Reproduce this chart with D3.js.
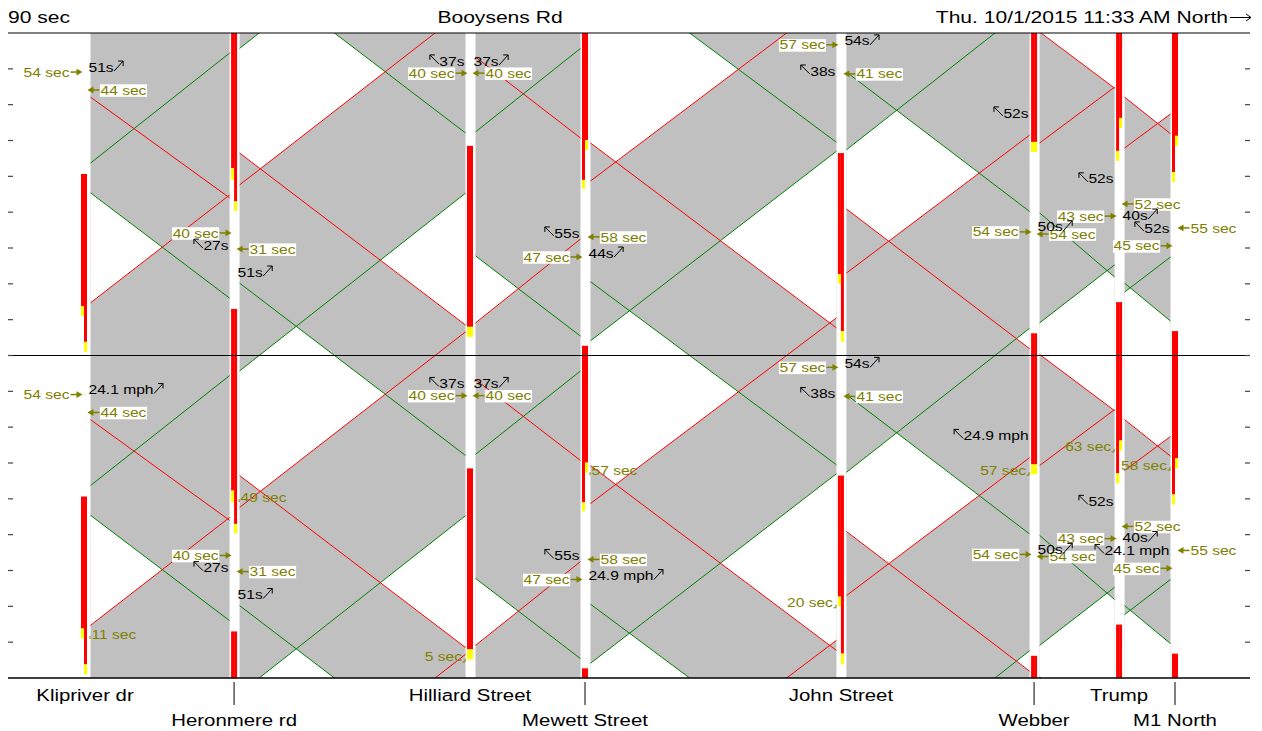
<!DOCTYPE html>
<html><head><meta charset="utf-8">
<script src="https://cdn.jsdelivr.net/npm/d3@7"></script>
<style>body{margin:0;background:#fff} text{font-family:"Liberation Sans",Arial,sans-serif}</style>
</head><body>
<svg id="c" width="1262" height="731"></svg>
<script>
// ---------------- data ----------------
const CYCLE = 90; // seconds
const intersections = ["Klipriver dr","Heronmere rd","Hilliard Street","Mewett Street","John Street","Webber","Trump","M1 North"];
const distances = [0, 328, 847, 1100, 1663, 2088, 2275, 2398]; // ft along Booysens Rd

// signal timing per intersection (s in cycle): two phases (left / right half of the bar)
const leftYellowStart  = [11.0, 49.0, 5.2, 46.5, 20.0, 56.8, 54.3, 48.4];
const leftRedStart     = [13.8, 52.3, 8.0, 49.0, 22.7, 59.6, 57.1, 51.2];
const rightYellowStart = [1.0, 40.3, 5.2, 57.3, 3.8, 56.8, 63.5, 58.5];
const rightRedStart    = [3.8, 43.0, 8.0, 60.1, 6.8, 59.6, 66.3, 61.3];
const redEnd           = [50.65, 103.0, 58.5, 92.7, 56.5, 96.2, 104.9, 96.8];

// band edge trajectories per link: [time at upstream end, time at downstream end] (s)
const nbGreen = [[143.7,174.4],[85.7,135.3],[152.4,175.7],[94.1,147.0],[147.4,187.6],[99.1,115.3],[107.7,117.5]];
const nbRed   = [[104.7,134.8],[137.6,186.6],[99.1,122.5],[138.7,190.5],[113.0,151.5],[149.3,164.9],[147.9,157.4]];
const sbGreen = [[135.4,106.0],[110.2,62.1],[117.8,95.4],[110.6,59.5],[169.1,130.2],[129.8,111.9],[110.2,99.6]];
const sbRed   = [[162.1,134.0],[146.5,98.5],[173.3,150.7],[149.3,97.7],[130.9,91.9],[180.3,164.6],[162.1,151.9]];

// unshaded gaps between bands: [link, lower edges [line, cycle], upper edges [line, cycle]]
const gaps = [
  [0, [["nbRed",0],["sbRed",-1]], [["sbGreen",0],["nbGreen",0]]],
  [1, [["nbRed",0],["sbRed",0]],  [["nbGreen",1],["sbGreen",1]]],
  [1, [["sbRed",0],["nbRed",-1]], [["nbGreen",0],["sbGreen",1]]],
  [2, [["nbRed",0],["sbRed",-1]], [["sbGreen",0],["nbGreen",0]]],
  [3, [["sbRed",0],["nbRed",0]],  [["nbGreen",1],["sbGreen",1]]],
  [3, [["nbRed",-1],["sbRed",0]], [["nbGreen",0],["sbGreen",1]]],
  [4, [["sbRed",0],["nbRed",0]],  [["nbGreen",0],["sbGreen",0]]],
  [4, [["sbRed",0],["nbRed",-1]], [["nbGreen",-1],["sbGreen",0]]],
  [5, [["sbRed",0],["nbRed",0]],  [["nbGreen",1],["sbGreen",1]]],
  [6, [["sbRed",0],["nbRed",0]],  [["nbGreen",1],["sbGreen",1]]]
];

// labels: [intersection, time (s), text]
const arrivalSec = [[0,169.1,"54 sec"],[1,124.2,"40 sec"],[2,168.8,"40 sec"],[3,117.5,"47 sec"],[4,176.7,"57 sec"],[5,124.5,"54 sec"],[6,128.9,"43 sec"],[7,120.6,"45 sec"]];
const departSec  = [[0,164.1,"44 sec"],[1,119.7,"31 sec"],[2,168.8,"40 sec"],[3,123.1,"58 sec"],[4,168.6,"41 sec"],[5,123.9,"54 sec"],[6,132.3,"52 sec"],[7,125.6,"55 sec"]];
const nbBand = [[0,170.5],[1,113.3],[2,172.2],[3,118.6],[4,177.8],[5,125.9],[6,129.2]];
const nbBandTextTop    = ["51s","51s","37s","44s","54s","50s","40s"];
const nbBandTextBottom = ["24.1 mph","51s","37s","24.9 mph","54s","50s","40s"];
const sbBand = [[1,120.8],[2,172.2],[3,124.2],[4,169.4],[5,157.7],[6,139.3],[7,125.6]];
const sbBandTextTop    = ["27s","37s","55s","38s","52s","52s","52s"];
const sbBandTextBottom = ["27s","37s","55s","38s","24.9 mph","52s","24.1 mph"];
const offsetNotes = [[0,12.3,"11 sec","R"],[1,50.5,"49 sec","R"],[2,5.9,"5 sec","L"],[3,58.0,"57 sec","R"],[4,21.0,"20 sec","L"],[5,58.0,"57 sec","L"],[6,64.5,"63 sec","L"],[7,59.4,"58 sec","L"]];
const timeTicks = d3.range(10, 180, 10);
const titleLeft = "90 sec", titleMid = "Booysens Rd", titleRight = "Thu. 10/1/2015 11:33 AM  North";

// ---------------- drawing ----------------
const svg = d3.select("#c");
const x = d3.scaleLinear().domain([0, 2398]).range([85, 1175]);
const y = d3.scaleLinear().domain([0, 2*CYCLE]).range([678, 33]);
const PL = 8, PR = 1250;
const GREY = "#c0c0c0", RED = "#ff0000", YEL = "#ffff00", GRN = "#008000", OLIVE = "#808000";
const SX = 1.2;
const lineData = {nbGreen, nbRed, sbGreen, sbRed};

svg.append("defs").append("clipPath").attr("id","clip").append("rect")
  .attr("x",PL).attr("y",y(180)).attr("width",PR-PL).attr("height",y(0)-y(180));
const plot = svg.append("g").attr("clip-path","url(#clip)");
const cycles = d3.range(-3, 4);

const links = d3.range(intersections.length-1).map(i => ({i, xa: x(distances[i]) + 5.5, xb: x(distances[i+1]) - 4.5}));

// shaded link areas
plot.selectAll("rect.link").data(links).join("rect").attr("class","link")
  .attr("x",d=>d.xa).attr("width",d=>d.xb-d.xa).attr("y",y(180)).attr("height",y(0)-y(180)).attr("fill",GREY);

// unshaded gaps
function tAt(name, li, k, px) {
  const L = links[li], v = lineData[name][li];
  return v[0] + (v[1]-v[0])*(px-L.xa)/(L.xb-L.xa) + k*CYCLE;
}
const gapArea = d3.area().x(d=>d.x).y0(d=>y(d.lo)).y1(d=>y(Math.max(d.lo,d.hi)));
gaps.forEach(([li, lower, upper]) => {
  const L = links[li];
  const xs = d3.range(L.xa, L.xb, 0.5).concat([L.xb]);
  d3.range(-2, 3).forEach(m => {
    const pts = xs.map(px => ({x: px,
      lo: d3.max(lower, ([n,k]) => tAt(n, li, k+m, px)),
      hi: d3.min(upper, ([n,k]) => tAt(n, li, k+m, px))}));
    if (pts.some(p => p.hi > p.lo)) plot.append("path").attr("d", gapArea(pts)).attr("fill","#fff");
  });
});

function lineSegs(arr, color) {
  const segs = [];
  links.forEach((L, i) => cycles.forEach(k => segs.push({x1:L.xa, y1:y(arr[i][0]+k*CYCLE), x2:L.xb, y2:y(arr[i][1]+k*CYCLE), color})));
  return segs;
}
const segs = lineSegs(nbGreen,GRN).concat(lineSegs(sbGreen,GRN), lineSegs(nbRed,RED), lineSegs(sbRed,RED));
plot.selectAll("line.traj").data(segs).join("line").attr("class","traj")
  .attr("x1",d=>d.x1).attr("y1",d=>d.y1).attr("x2",d=>d.x2).attr("y2",d=>d.y2)
  .attr("stroke",d=>d.color).attr("stroke-width",1);

// signal bars
const barRects = [];
intersections.forEach((n, i) => {
  const xc = x(distances[i]) - (i===0 ? 1 : 0);
  const halves = [
    {x0: xc-3, ys: leftYellowStart[i], rs: leftRedStart[i]},
    {x0: xc, ys: rightYellowStart[i], rs: rightRedStart[i]}
  ];
  halves.forEach(h => cycles.forEach(k => {
    const s = k*CYCLE;
    barRects.push({x:h.x0, y:y(redEnd[i]+s), h:y(h.rs+s)-y(redEnd[i]+s), c:RED});
    barRects.push({x:h.x0, y:y(h.rs+s), h:y(h.ys+s)-y(h.rs+s), c:YEL});
  }));
});
plot.selectAll("rect.bar").data(barRects).join("rect").attr("class","bar")
  .attr("x",d=>d.x).attr("y",d=>d.y).attr("width",3).attr("height",d=>d.h).attr("fill",d=>d.c);

// frame lines and ticks
[180, 90, 0].forEach((t,j) => svg.append("line").attr("x1",PL).attr("x2",PR).attr("y1",y(t)).attr("y2",y(t))
  .attr("stroke","#000").attr("stroke-width", j===2 ? 1.5 : 1));
timeTicks.forEach(t => {
  svg.append("line").attr("x1",PL).attr("x2",PL+5).attr("y1",y(t)).attr("y2",y(t)).attr("stroke","#444").attr("stroke-width",1.2);
  svg.append("line").attr("x1",PR-5).attr("x2",PR).attr("y1",y(t)).attr("y2",y(t)).attr("stroke","#444").attr("stroke-width",1.2);
});

function addText(parent, x0, y0, str, o) {
  const sx = o.sx || SX;
  const g = parent.append("g").attr("transform", `translate(${x0},${y0})`);
  const inner = g.append("g").attr("transform", `scale(${sx},1)`);
  const rect = o.bg ? inner.append("rect").attr("fill","#fff") : null;
  const t = inner.append("text").attr("x",0).attr("y",o.dy||0).attr("text-anchor",o.anchor||"start")
    .attr("font-size",o.size||13).attr("fill",o.color||"#000").text(str);
  const bb = t.node().getBBox();
  if (rect) rect.attr("x",bb.x-0.5).attr("y",bb.y+1.5).attr("width",bb.width+1).attr("height",bb.height-2);
  return {left: x0 + bb.x*sx, right: x0 + (bb.x+bb.width)*sx};
}

intersections.forEach((n,i) => {
  const xi = x(distances[i]);
  const row = i % 2;
  if (row === 1) svg.append("line").attr("x1",xi).attr("x2",xi).attr("y1",682).attr("y2",705).attr("stroke","#000").attr("stroke-width",1);
  addText(svg, xi, row ? 726 : 701, n, {size:17, anchor:"middle"});
});

// titles
addText(svg, PL, 23, titleLeft, {size:17, sx:1.24});
addText(svg, 500, 23, titleMid, {size:17, anchor:"middle", sx:1.24});
const tr = addText(svg, 1228, 23, titleRight, {size:17, anchor:"end", sx:1.24});
svg.append("path").attr("d","M1230,17.5L1251,17.5M1246,14L1251,17.5L1246,21").attr("stroke","#000").attr("fill","none").attr("stroke-width",1);

const lab = svg.append("g");
const DY = 4.6;
function oliveArrowRight(tip, yy) {
  lab.append("line").attr("x1",tip-12).attr("x2",tip-4).attr("y1",yy).attr("y2",yy).attr("stroke",OLIVE).attr("stroke-width",1.5);
  lab.append("path").attr("d",`M${tip},${yy}L${tip-6},${yy-3.4}L${tip-6},${yy+3.4}Z`).attr("fill",OLIVE);
}
function oliveArrowLeft(tip, yy) {
  lab.append("line").attr("x1",tip+4).attr("x2",tip+12).attr("y1",yy).attr("y2",yy).attr("stroke",OLIVE).attr("stroke-width",1.5);
  lab.append("path").attr("d",`M${tip},${yy}L${tip+6},${yy-3.4}L${tip+6},${yy+3.4}Z`).attr("fill",OLIVE);
}
function arrowNE(x0, yy) {
  lab.append("path").attr("d",`M${x0},${yy+4}L${x0+9},${yy-6}M${x0+4},${yy-6}L${x0+9},${yy-6}L${x0+9},${yy-1}`)
    .attr("stroke","#000").attr("fill","none").attr("stroke-width",1);
}
function arrowNW(x1, yy) {
  lab.append("path").attr("d",`M${x1},${yy+3}L${x1-9},${yy-6}M${x1-9},${yy-1}L${x1-9},${yy-6}L${x1-4},${yy-6}`)
    .attr("stroke","#000").attr("fill","none").attr("stroke-width",1);
}

[0, -CYCLE].forEach((shift, panel) => {
  arrivalSec.forEach(([i,t,s]) => {
    const xi = x(distances[i]), yy = y(t+shift), tip = xi - 2.5;
    oliveArrowRight(tip, yy);
    addText(lab, tip-13, yy, s, {anchor:"end", color:OLIVE, bg:true, dy:DY});
  });
  departSec.forEach(([i,t,s]) => {
    const xi = x(distances[i]), yy = y(t+shift), tip = xi + 2.5;
    oliveArrowLeft(tip, yy);
    addText(lab, tip+13, yy, s, {anchor:"start", color:OLIVE, bg:true, dy:DY});
  });
  const nbTxt = panel ? nbBandTextBottom : nbBandTextTop;
  nbBand.forEach(([i,t], j) => {
    const xi = x(distances[i]), yy = y(t+shift);
    const r = addText(lab, xi+3.5, yy, nbTxt[j], {anchor:"start", dy:DY});
    arrowNE(r.right+0.5, yy);
  });
  const sbTxt = panel ? sbBandTextBottom : sbBandTextTop;
  sbBand.forEach(([i,t], j) => {
    const xi = x(distances[i]), yy = y(t+shift);
    const r = addText(lab, xi-5.5, yy, sbTxt[j], {anchor:"end", dy:DY});
    arrowNW(r.left-0.5, yy);
  });
});
offsetNotes.forEach(([i,t,s,side]) => {
  const xi = x(distances[i]), yy = y(t);
  if (side === "R") {
    lab.append("path").attr("d",`M${xi+5},${yy+2}L${xi+5},${yy+5}`).attr("stroke",OLIVE).attr("stroke-width",1);
    addText(lab, xi+6.5, yy, s, {anchor:"start", color:OLIVE, dy:DY});
  } else {
    addText(lab, xi-8, yy, s, {anchor:"end", color:OLIVE, dy:DY});
    lab.append("path").attr("d",`M${xi-7.5},${yy+5}L${xi-5},${yy+5}L${xi-5},${yy+2}`).attr("stroke",OLIVE).attr("fill","none").attr("stroke-width",1);
  }
});
</script>
</body></html>
